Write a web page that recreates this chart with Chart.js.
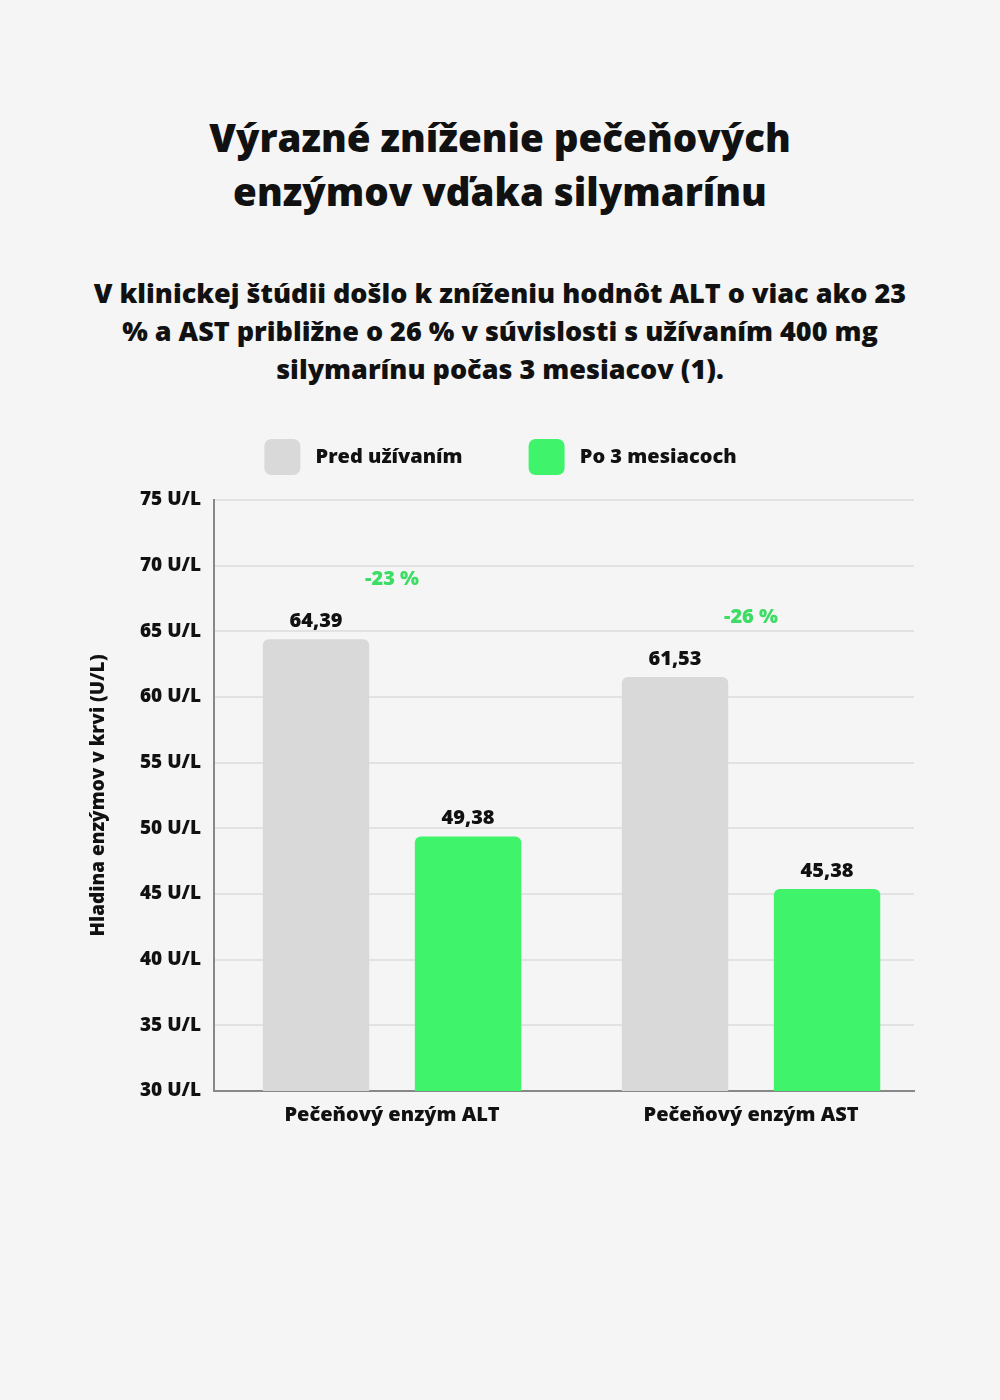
<!DOCTYPE html>
<html><head><meta charset="utf-8">
<script src="https://cdn.jsdelivr.net/npm/chart.js@4.4.1/dist/chart.umd.min.js"></script>
<style>
html,body{margin:0;padding:0;background:#f5f5f5;width:1000px;height:1400px;overflow:hidden;font-family:"Open Sans",sans-serif;}
#title{position:absolute;top:110px;left:0;width:1000px;text-align:center;font-weight:800;font-size:38.5px;line-height:54px;color:#111;}
#sub{position:absolute;top:274px;left:20px;width:960px;text-align:center;font-weight:800;font-size:27px;line-height:38px;color:#111;}
#wrap{position:absolute;top:373px;left:0;width:1000px;height:796px;}
</style></head><body>
<div id="title">Výrazné zníženie pečeňových<br>enzýmov vďaka silymarínu</div>
<div id="sub">V klinickej štúdii došlo k zníženiu hodnôt ALT o viac ako 23<br>% a AST približne o 26 % v súvislosti s užívaním 400 mg<br>silymarínu počas 3 mesiacov (1).</div>
<div id="wrap"><canvas id="c" width="1000" height="796"></canvas></div>
<script>
const categories = ['Pečeňový enzým ALT', 'Pečeňový enzým AST'];
const seriesNames = ['Pred užívaním', 'Po 3 mesiacoch'];
const beforeValues = [64.39, 61.53];
const afterValues = [49.38, 45.38];
const changeLabels = ['-23 %', '-26 %'];
const yTicks = [30, 35, 40, 45, 50, 55, 60, 65, 70, 75];
const yTitle = 'Hladina enzýmov v krvi (U/L)';

const FONT = '"Open Sans", sans-serif';
const toPoints = arr => arr.map((v, i) => ({ x: i, y: v }));

const legendGap = {
  id: 'legendGap',
  beforeInit(chart) {
    const lg = chart.legend;
    if (lg) {
      const f = lg.fit;
      lg.fit = function () { f.call(this); this.height += 15; };
    }
  }
};

const labelPlugin = {
  id: 'vals',
  afterDatasetsDraw(chart) {
    const ctx = chart.ctx;
    ctx.save();
    ctx.font = '800 20px ' + FONT;
    ctx.fillStyle = '#111';
    ctx.textAlign = 'center';
    ctx.textBaseline = 'middle';
    chart.data.datasets.forEach((ds, di) => {
      chart.getDatasetMeta(di).data.forEach((bar, i) => {
        ctx.fillText(ds.data[i].y.toFixed(2).replace('.', ','), bar.x, bar.y - 18);
      });
    });
    ctx.fillStyle = '#3ddc64';
    const xs = chart.scales.x;
    const m0 = chart.getDatasetMeta(0).data;
    changeLabels.forEach((t, i) => {
      ctx.fillText(t, xs.getPixelForValue(i), m0[i].y - 60);
    });
    ctx.restore();
  }
};

new Chart(document.getElementById('c'), {
  type: 'bar',
  data: {
    datasets: [
      { label: seriesNames[0], data: toPoints(beforeValues), backgroundColor: '#d9d9d9', borderRadius: 6, borderSkipped: 'start' },
      { label: seriesNames[1], data: toPoints(afterValues), backgroundColor: '#3ff46a', borderRadius: 6, borderSkipped: 'start' }
    ]
  },
  options: {
    responsive: false,
    animation: false,
    devicePixelRatio: 1,
    categoryPercentage: 0.847,
    barPercentage: 0.70,
    layout: { padding: { left: 87, right: 86, top: 0, bottom: 30 } },
    plugins: {
      legend: {
        position: 'top',
        labels: {
          boxWidth: 36, boxHeight: 36, useBorderRadius: true, borderRadius: 7,
          padding: 66,
          font: { family: FONT, size: 20, weight: '800' }, color: '#111',
          generateLabels(chart) {
            const items = Chart.defaults.plugins.legend.labels.generateLabels(chart);
            items.forEach(it => { it.text = ' ' + it.text; });
            return items;
          }
        }
      },
      tooltip: { enabled: false }
    },
    scales: {
      x: {
        type: 'linear',
        offset: false,
        min: -0.496, max: 1.454,
        afterBuildTicks(s) { s.ticks = categories.map((c, i) => ({ value: i })); },
        grid: { display: false, drawTicks: false, offset: false },
        border: { color: '#888', width: 2 },
        ticks: { font: { family: FONT, size: 20, weight: '800' }, color: '#111', padding: 12,
          autoSkip: false, maxRotation: 0, callback: v => categories[v] }
      },
      y: {
        min: yTicks[0], max: yTicks[yTicks.length - 1],
        afterBuildTicks(s) { s.ticks = yTicks.map(v => ({ value: v })); },
        afterFit(s) { s.width = 127; },
        grid: { color: '#e2e2e2', lineWidth: 2, drawTicks: false },
        border: { color: '#888', width: 2 },
        ticks: { font: { family: FONT, size: 19, weight: '800' }, color: '#111', padding: 13,
          callback: v => v + ' U/L' },
        title: { display: true, text: yTitle, font: { family: FONT, size: 19, weight: '800' }, color: '#111', padding: 0 }
      }
    }
  },
  plugins: [legendGap, labelPlugin]
});
</script>
</body></html>
